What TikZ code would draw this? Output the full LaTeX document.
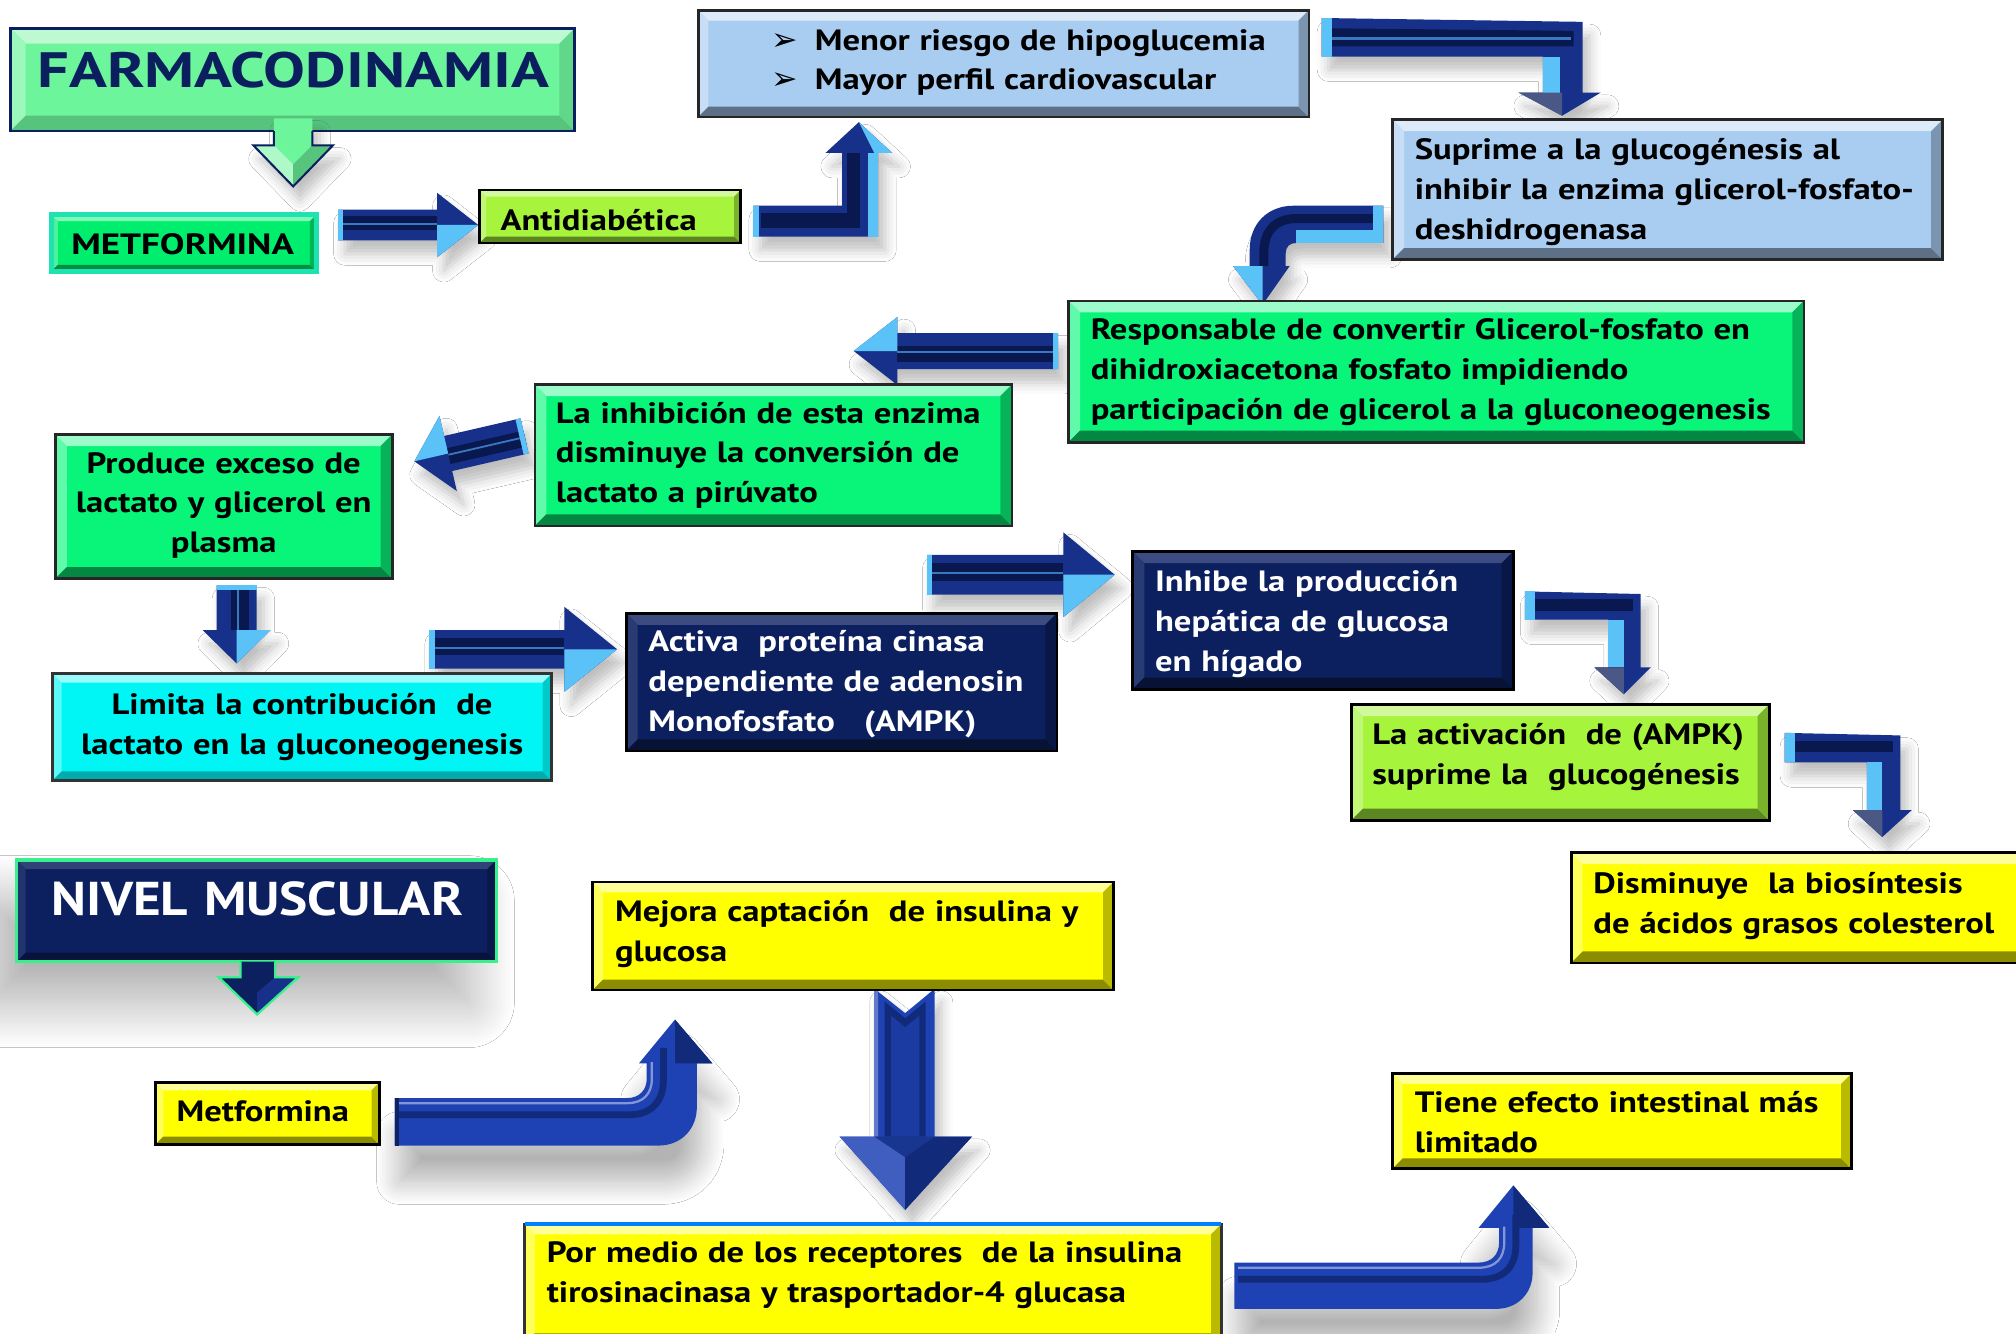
\documentclass[tikz,border=0pt]{standalone}
\usepackage{fontspec}
\setmainfont{PT Sans}[FakeStretch=1.18]
\newfontfamily\titlefont{PT Sans}[FakeStretch=1.26]
\newfontfamily\nivelfont{PT Sans}[FakeStretch=1.12]
\newfontfamily\symfont{DejaVu Sans}
\usetikzlibrary{calc,fit,shadows.blur}
\definecolor{navyD}{HTML}{0A1850}
\definecolor{navyM}{HTML}{17318A}
\definecolor{lblue}{HTML}{5BC2F8}
\definecolor{royal}{HTML}{1E42B4}
\definecolor{royalD}{HTML}{112A7A}
\definecolor{lgreen}{HTML}{6DF59C}
\definecolor{green2}{HTML}{08F57A}
\definecolor{mgreen}{HTML}{00EE6E}
\definecolor{ygreen}{HTML}{A7F43C}
\definecolor{lsky}{HTML}{A9CCF1}
\definecolor{cyanb}{HTML}{00F5F5}
\definecolor{navyB}{HTML}{0C2060}
\definecolor{yel}{HTML}{FFFF00}
\definecolor{titlenavy}{HTML}{0B1F5E}
\definecolor{tealring}{HTML}{1EE3B0}
\definecolor{brightgreen}{HTML}{38F08C}
\tikzset{
  sh/.style={blur shadow={shadow xshift=3pt, shadow yshift=-6pt, shadow blur radius=5pt, shadow opacity=25}},
  shb/.style={blur shadow={shadow xshift=2pt, shadow yshift=-16pt, shadow blur radius=10pt, shadow opacity=30, shadow blur steps=20}},
  txt/.style={inner sep=0pt, font=\bfseries\fontsize{13}{17.64}\selectfont, align=left, text width=#1, anchor=base west},
  ctxt/.style={inner sep=0pt, font=\bfseries\fontsize{13}{17.64}\selectfont, align=center, text width=#1, anchor=base},
}
\newcommand\bevcol[2]{\colorlet{bvT}{#1}\colorlet{bvB}{#2}}
\newcommand\bbox[8]{%
 \fill[#6] (#2,#3) rectangle (#4,#5);
 \fill[bvT] (#2,#3) -- (#4,#3) -- ({#4-#7},{#3+#7}) -- ({#2+#7},{#3+#7}) -- cycle;
 \fill[bvT!60!#6] (#2,#3) -- ({#2+#7},{#3+#7}) -- ({#2+#7},{#5-#7}) -- (#2,#5) -- cycle;
 \fill[bvB] (#2,#5) -- ({#2+#7},{#5-#7}) -- ({#4-#7},{#5-#7}) -- (#4,#5) -- cycle;
 \fill[bvB!60!#6] (#4,#3) -- (#4,#5) -- ({#4-#7},{#5-#7}) -- ({#4-#7},{#3+#7}) -- cycle;
 \node[fit={(#2,#3) (#4,#5)}, inner sep=0pt, #8] (#1) {};
}
% tail, angle, length, shaft half width, head half width, head length, side
\newcommand\fatarrow[7]{%
\begin{scope}[shift={(#1)}, rotate=#2]
 \fill[navyM, sh] (0,-#4) -- ({#3-#6},-#4) -- ({#3-#6},-#5) -- (#3,0) -- ({#3-#6},#5) -- ({#3-#6},#4) -- (0,#4) -- cycle;
 \fill[navyD] (0,{-0.6*#4}) rectangle ({#3-#6},{0.3*#4});
 \fill[lblue!50!navyM] (0,{-0.12*#4}) rectangle ({#3-#6},{-0.02*#4});
 \fill[lblue] (0,-#4) rectangle (4,#4);
 \fill[lblue] ({#3-#6},0) -- (#3,0) -- ({#3-#6},{#7*#5}) -- cycle;
\end{scope}}
\begin{document}
\begin{tikzpicture}[x=0.02cm,y=-0.02cm]
\useasboundingbox (0,0) rectangle (1568,1037);
\fill[white] (0,0) rectangle (1568,1037);

% ---------- shadows for big items
\path[blur shadow={shadow xshift=-12pt, shadow yshift=-18pt, shadow blur radius=20pt, shadow opacity=32, shadow blur steps=30}] (13,669) rectangle (386,748);

% ---------- connectors (drawn under boxes)
\coordinate (a2) at (263,175);
\fatarrow{a2}{0}{109}{12}{25}{32}{1}

% A3 antidiabetica -> menor
\fill[navyM, sh] (586,160) -- (655,160) -- (655,119) -- (642,119) -- (668,95) -- (694,119) -- (683,119) -- (683,184) -- (586,184) -- cycle;
\fill[navyD] (592,166) rectangle (668,177);
\fill[navyD] (659,119) rectangle (669,177);
\fill[lblue] (675,119) rectangle (683,184);
\fill[lblue] (668,95) -- (694,119) -- (680,119) -- cycle;
\fill[lblue] (586,160) rectangle (590,184);

% A4 menor -> suprime
\fill[navyM, sh] (1028,14) -- (1231,17) -- (1231,72) -- (1245,72) -- (1215,90) -- (1181,72) -- (1200,72) -- (1200,44) -- (1028,44) -- cycle;
\fill[navyD] (1036,22) -- (1224,24) -- (1224,36) -- (1036,36) -- cycle;
\fill[lblue!50!navyM] (1036,29) rectangle (1222,31);
\fill[lblue] (1200,44) rectangle (1213,72);
\fill[lblue] (1028,14) -- (1036,14) -- (1036,44) -- (1028,44) -- cycle;
\fill[navyM!50!gray] (1181,72) -- (1215,90) -- (1215,72) -- cycle;

% A5 suprime -> responsable
\fill[navyM, sh] (1076,160) -- (1006,160) .. controls (986,160) and (972,174) .. (972,194) -- (972,207) -- (959,207) -- (982,237) -- (1003,207) -- (1000,207) -- (1000,197) .. controls (1000,192) and (1003,189) .. (1008,189) -- (1076,189) -- cycle;
\draw[navyD, line width=4pt] (1070,170) -- (1008,170) .. controls (992,170) and (983,180) .. (983,196) -- (983,207);
\fill[lblue] (1008,179) rectangle (1076,189);
\fill[lblue] (1068,160) rectangle (1076,189);
\fill[lblue] (959,207) -- (982,237) -- (982,207) -- cycle;

% A6 responsable -> inhibicion
\coordinate (a6) at (823,273);
\fatarrow{a6}{180}{159}{14}{26.5}{34}{1}
% A7 inhibicion -> produce
\coordinate (a7) at (408,339);
\fatarrow{a7}{193}{88}{14}{30}{27}{1}
% A8 produce -> limita
\coordinate (a8) at (184,455);
\fatarrow{a8}{-90}{61}{15.5}{26.5}{26}{-1}
% A9 limita -> activa
\coordinate (a9) at (334,505);
\fatarrow{a9}{0}{146}{15}{33}{41}{1}
% A10 activa -> inhibe
\coordinate (a10) at (721,447);
\fatarrow{a10}{0}{146}{15.5}{33}{40}{1}

% A11 inhibe -> activacion
\fill[navyM, sh] (1186,460) -- (1276,462) -- (1276,519) -- (1284,519) -- (1263,540) -- (1240,519) -- (1251,519) -- (1251,482) -- (1186,482) -- cycle;
\fill[navyD] (1194,466) rectangle (1270,475);
\fill[lblue] (1186,460) rectangle (1194,482);
\fill[lblue] (1251,482) rectangle (1263,519);
\fill[navyM!50!gray] (1240,519) -- (1263,540) -- (1263,519) -- cycle;

% A12 activacion -> disminuye
\fill[navyM, sh] (1388,570) -- (1478,572) -- (1478,630) -- (1487,630) -- (1464,651) -- (1441,630) -- (1452,630) -- (1452,593) -- (1388,593) -- cycle;
\fill[navyD] (1396,576) rectangle (1472,585);
\fill[lblue] (1388,570) rectangle (1396,593);
\fill[lblue] (1452,593) rectangle (1464,630);
\fill[navyM!50!gray] (1441,630) -- (1464,651) -- (1464,630) -- cycle;

% A14 metformina -> mejora
\fill[royal, shb] (307,854) -- (488,854) .. controls (497,854) and (503,848) .. (503,839) -- (503,827) -- (497,827) -- (525,793) -- (554,827) -- (542,827) -- (542,861) .. controls (542,878) and (530,891) .. (512,891) -- (307,891) -- cycle;
\draw[royal!55!white, line width=1pt] (310,858) -- (488,858) .. controls (500,858) and (507,851) .. (507,839) -- (507,826);
\draw[royalD, line width=3pt] (310,867) -- (490,867) .. controls (506,867) and (516,857) .. (516,840) -- (516,815);
\fill[royalD] (525,793) -- (554,827) -- (525,827) -- cycle;
\fill[royalD!80!black] (307,854) rectangle (310,891);

% A15 mejora -> por medio
\fill[royal, sh] (680,769) -- (704,788) -- (727,769) -- (727,884) -- (756,884) -- (704,941) -- (653,884) -- (680,884) -- cycle;
\fill[royalD] (688,779) -- (704,792) -- (720,779) -- (720,884) -- (688,884) -- cycle;
\fill[royal!90!black] (693,790) -- (704,799) -- (715,790) -- (715,884) -- (693,884) -- cycle;
\fill[royal!70!white] (680,769) -- (683,771) -- (683,884) -- (680,884) -- cycle;
\fill[royal!85!white] (653,884) -- (704,941) -- (704,900) -- (680,884) -- cycle;
\fill[royalD] (756,884) -- (704,941) -- (704,900) -- (727,884) -- cycle;
\fill[royal!80!black] (680,884) -- (704,900) -- (727,884) -- cycle;

% A16 por medio -> tiene
\fill[royal, shb] (960,982) -- (1150,982) .. controls (1160,982) and (1166,976) .. (1166,966) -- (1166,955) -- (1150,955) -- (1177,922) -- (1205,955) -- (1192,955) -- (1192,990) .. controls (1192,1006) and (1180,1018) .. (1164,1018) -- (960,1018) -- cycle;
\draw[royal!55!white, line width=1pt] (963,986) -- (1150,986) .. controls (1163,986) and (1170,979) .. (1170,966) -- (1170,954);
\draw[royalD, line width=3pt] (963,995) -- (1152,995) .. controls (1170,995) and (1179,985) .. (1179,968) -- (1179,945);
\fill[royalD] (1177,922) -- (1205,955) -- (1177,955) -- cycle;

% ---------- boxes
\bevcol{lgreen!45!white}{lgreen!80!black}
\bbox{farma}{8}{22}{447}{102}{lgreen}{12}{draw=titlenavy, line width=1.2pt}

\bevcol{mgreen!50!white}{mgreen!60!black}
\bbox{metf}{40}{167}{246}{211}{mgreen}{5}{draw=tealring, line width=2.2pt}

\bevcol{ygreen!50!white}{ygreen!55!black}
\bbox{anti}{373}{148}{576}{189}{ygreen}{5}{draw=black, line width=1pt}

\bevcol{lsky!40!white}{lsky!55!black}
\bbox{menor}{543}{8}{1018}{91}{lsky}{8}{draw=black!85, line width=1.2pt}
\bbox{supr}{1083}{93}{1511}{202}{lsky}{9}{draw=black!85, line width=1.2pt}

\bevcol{green2!40!white}{green2!55!black}
\bbox{resp}{831}{234}{1403}{344}{green2}{9}{draw=black!85, line width=1.2pt}
\bbox{inhib}{416}{299}{787}{409}{green2}{9}{draw=black!85, line width=1.2pt}
\bbox{prod}{43}{338}{305}{450}{green2}{9}{draw=black!85, line width=1.2pt}

\bevcol{cyanb!40!white}{cyanb!70!black}
\bbox{limita}{41}{524}{429}{607}{cyanb}{7}{draw=black!80, line width=1.2pt}

\bevcol{navyB!80!white}{navyB!55!black}
\bbox{activa}{487}{477}{822}{584}{navyB}{9}{draw=black, line width=1.2pt}
\bbox{inhibe}{881}{429}{1177}{536}{navyB}{9}{draw=black, line width=1.2pt}

\bevcol{ygreen!50!white}{ygreen!55!black}
\bbox{activ2}{1051}{548}{1376}{638}{ygreen}{9}{draw=black, line width=1.2pt}

\bevcol{yel!40!white}{yel!55!black}
\bbox{dism}{1222}{663}{1580}{749}{yel}{9}{draw=black, line width=1.2pt}
\bbox{metf2}{121}{842}{295}{890}{yel}{6}{draw=black, line width=1.2pt}
\bbox{mejora}{461}{686}{866}{770}{yel}{8}{draw=black, line width=1.2pt}
\bbox{pormedio}{408}{952}{950}{1045}{yel}{8}{draw=black!80, line width=1.2pt}
\draw[blue!50!cyan, line width=1.4pt] (408,952) -- (950,952);
\bbox{tiene}{1083}{835}{1440}{909}{yel}{8}{draw=black, line width=1.2pt}

\bevcol{navyB!85!white}{navyB!60!black}
\bbox{nivel}{13}{669}{386}{748}{navyB}{7}{draw=brightgreen, line width=1.5pt}

% ---------- arrows over boxes
\fill[lgreen, sh] (213,92) -- (243,92) -- (243,113) -- (259,113) -- (228,145) -- (197,113) -- (213,113) -- cycle;
\fill[lgreen!55!white] (197,113) -- (228,145) -- (228,128) -- (213,113) -- cycle;
\fill[lgreen!80!black] (259,113) -- (228,145) -- (228,128) -- (243,113) -- cycle;
\draw[titlenavy, line width=0.9pt, line join=miter] (213,102) -- (213,113) -- (197,113) -- (228,145) -- (259,113) -- (243,113) -- (243,102);

\fill[navyB] (187,748) -- (187,760) -- (170,760) -- (200,789) -- (232,760) -- (214,760) -- (214,748) -- cycle;
\fill[navyM] (200,789) -- (232,760) -- (214,760) -- (200,772) -- cycle;
\draw[brightgreen, line width=1pt] (187,748) -- (187,760) -- (170,760) -- (200,789) -- (232,760) -- (214,760) -- (214,748);

% ---------- texts
\node[ctxt=8.6cm, font=\titlefont\bfseries\fontsize{22}{26}\selectfont, text=titlenavy] (farmat) at (228,68) {FARMACODINAMIA};
\node[ctxt=4cm, font=\titlefont\bfseries\fontsize{13}{16}\selectfont] (metft) at (142,198) {METFORMINA};
\node[txt=6cm] (antit) at (389,179) {Antidiabética};
\node[txt=12cm] (menort) at (600,39) {\makebox[19pt][l]{\symfont\mdseries\fontsize{14}{17}\selectfont ➢}Menor riesgo de hipoglucemia\\\makebox[19pt][l]{\symfont\mdseries\fontsize{14}{17}\selectfont ➢}Mayor perfil cardiovascular};
\node[txt=12cm] (suprt) at (1100,124) {Suprime a la glucogénesis al\\inhibir la enzima glicerol-fosfato-\\deshidrogenasa};
\node[txt=14cm] (respt) at (848,264) {Responsable de convertir Glicerol-fosfato en\\dihidroxiacetona fosfato impidiendo\\participación de glicerol a la gluconeogenesis};
\node[txt=12cm] (inhibt) at (432,329) {La inhibición de esta enzima\\disminuye la conversión de\\lactato a pirúvato};
\node[ctxt=5.2cm] (prodt) at (174,368) {Produce exceso de\\lactato y glicerol en\\plasma};
\node[ctxt=7.7cm] (limitat) at (235,556) {Limita la contribución\ \ de\\lactato en la gluconeogenesis};
\node[txt=12cm, text=white] (activat) at (504,507) {Activa\ \ proteína cinasa\\dependiente de adenosin\\Monofosfato\ \ \ (AMPK)};
\node[txt=12cm, text=white] (inhibet) at (898,460) {Inhibe la producción\\hepática de glucosa\\en hígado};
\node[txt=12cm] (activ2t) at (1067,579) {La activación\ \ de (AMPK)\\suprime la\ \ glucogénesis};
\node[txt=12cm] (dismt) at (1239,695) {Disminuye\ \ la biosíntesis\\de ácidos grasos colesterol};
\node[ctxt=7.4cm, font=\nivelfont\bfseries\fontsize{21}{25}\selectfont, text=white] (nivelt) at (200,712) {NIVEL MUSCULAR};
\node[txt=6cm] (metf2t) at (137,872) {Metformina};
\node[txt=12cm] (mejorat) at (478,717) {Mejora captación\ \ de insulina y\\glucosa};
\node[txt=14cm] (pormediot) at (425,982) {Por medio de los receptores\ \ de la insulina\\tirosinacinasa y trasportador-4 glucasa};
\node[txt=12cm] (tienet) at (1100,865) {Tiene efecto intestinal más\\limitado};
\end{tikzpicture}
\end{document}
